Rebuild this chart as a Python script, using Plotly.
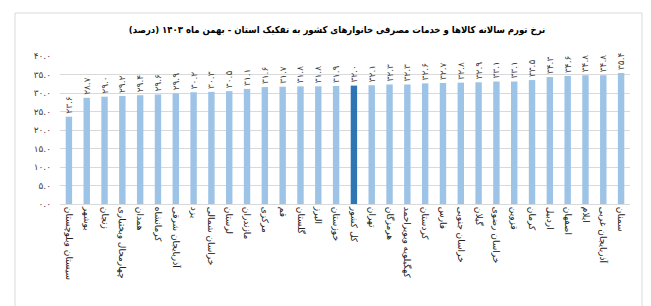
import plotly.graph_objects as go

provinces = ["سیستان وبلوچستان", "بوشهر", "زنجان", "چهارمحال وبختیاری", "همدان", "کرمانشاه",
             "آذربایجان شرقی", "یزد", "خراسان شمالی", "لرستان", "مازندران", "مرکزی", "قم",
             "گلستان", "البرز", "خوزستان", "کل کشور", "تهران", "هرمزگان", "کهگیلویه وبویراحمد",
             "کردستان", "فارس", "خراسان جنوبی", "گیلان", "خراسان رضوی", "قزوین", "کرمان",
             "اردبیل", "اصفهان", "ایلام", "آذربایجان غربی", "سمنان"]
values = [23.6, 28.7, 29.0, 29.2, 29.4, 29.6, 29.9, 30.2, 30.3, 30.5, 31.1, 31.6, 31.7,
          31.8, 31.8, 31.9, 32.0, 32.1, 32.3, 32.3, 32.6, 32.7, 32.8, 32.9, 33.1, 33.1, 33.5,
          34.3, 34.6, 34.8, 34.8, 35.4]
highlight = "کل کشور"
y_ticks = [0, 5, 10, 15, 20, 25, 30, 35, 40]

def fa(s):
    tr = str.maketrans("0123456789.", "۰۱۲۳۴۵۶۷۸۹.")
    return s.translate(tr)

labels = [fa(f"{v:.1f}") for v in values]
colors = ["#2E75B6" if p == highlight else "#9DC3E6" for p in provinces]

fig = go.Figure(go.Bar(
    x=provinces, y=values, marker_color=colors, marker_line_width=0,
    text=labels, textposition="outside", textangle=-90, constraintext="none",
    textfont=dict(size=9, color="#404040", family="DejaVu Sans"),
    cliponaxis=False, hoverinfo="skip"))

fig.update_layout(
    width=651, height=306, paper_bgcolor="white", plot_bgcolor="white",
    margin=dict(l=60, r=21, t=56, b=102),
    bargap=0.64, showlegend=False,
    font=dict(family="DejaVu Sans", color="#404040"),
    title=dict(text="<b>نرخ تورم سالانه کالاها و خدمات مصرفی خانوارهای کشور به تفکیک استان - بهمن ماه ۱۴۰۳ (درصد)</b>",
               x=337 / 651, xref="container", xanchor="center", y=1 - 30 / 306, yanchor="middle",
               font=dict(size=9.5, color="#000000", family="DejaVu Sans Condensed, DejaVu Sans")),
    xaxis=dict(tickangle=90, tickfont=dict(size=9, color="#202020"), showline=True,
               linecolor="#D9D9D9", linewidth=1, ticks="", showgrid=False),
    yaxis=dict(range=[0, 40], tickvals=y_ticks, ticktext=[fa(f"{t:.1f}") for t in y_ticks],
               tickfont=dict(size=9, color="#404040"), showgrid=True, gridcolor="#D9D9D9",
               gridwidth=1, zeroline=False, showline=False, ticks="", ticklabelstandoff=8),
    shapes=[dict(type="rect", xref="paper", yref="paper",
                 x0=(15 - 60) / 570, x1=(642 - 60) / 570,
                 y0=(204 - 320) / 148, y1=(204 - 13) / 148,
                 line=dict(color="#D9D9D9", width=1), fillcolor="rgba(0,0,0,0)", layer="below")],
)

fig.write_html("out.html")
